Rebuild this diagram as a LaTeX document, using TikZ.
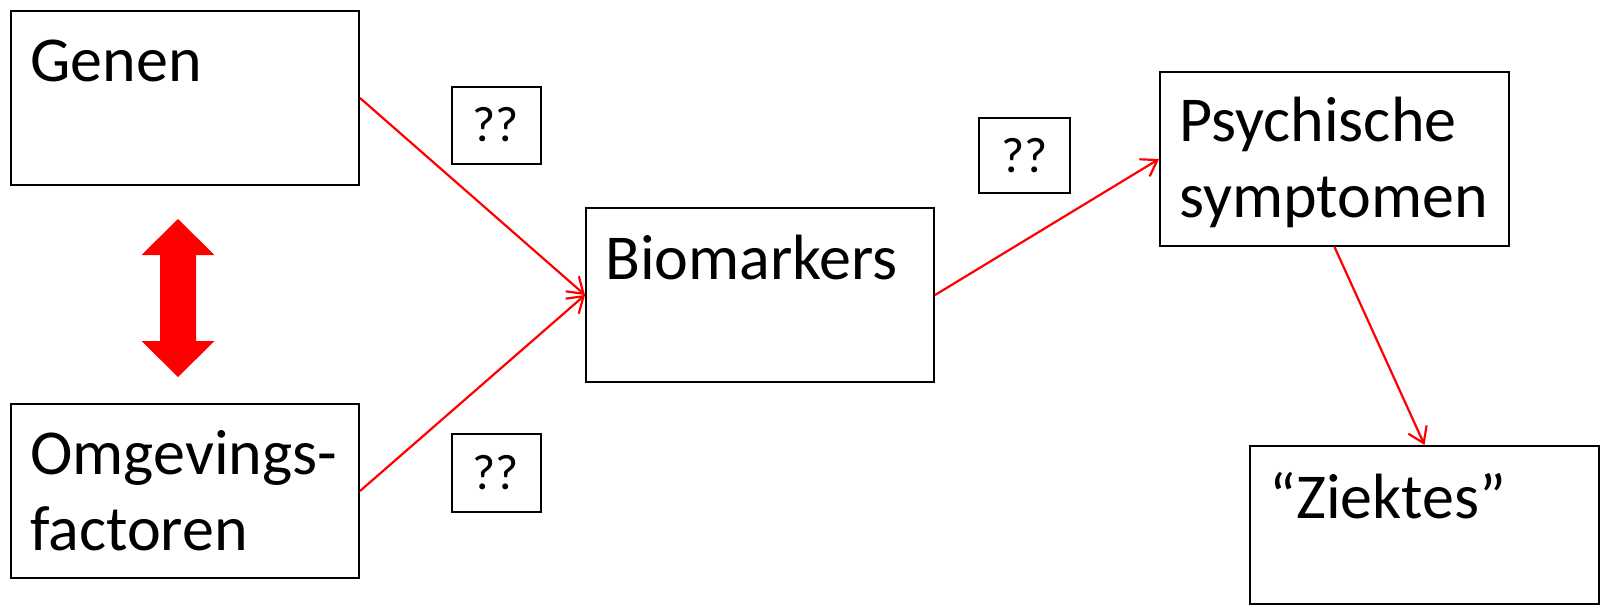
\documentclass[tikz,border=0pt]{standalone}
\usepackage{fontspec}
\setmainfont{Carlito}
\usetikzlibrary{arrows.meta}

\begin{document}
\begin{tikzpicture}[x=0.5pt,y=-0.5pt,
  box/.style={draw=black, line width=1pt, rectangle, inner sep=0pt,
    minimum width=174pt, minimum height=87pt},
  qbox/.style={draw=black, line width=1pt, rectangle, inner sep=0pt,
    font=\fontsize{25}{30}\selectfont},
  boxtext/.style={anchor=base west, inner sep=0pt, align=left,
    font=\fontsize{32}{38}\selectfont},
  link/.style={draw=red, line width=1.1pt, -{Straight Barb[length=7.5pt,width=10pt]}},
  bigarrow/.style={fill=red}]

  \useasboundingbox (0,0) rectangle (1604,606);

  % main boxes
  \node[box] (genen) at (185,98) {};
  \node[box] (omg) at (185,491) {};
  \node[box] (bio) at (760,295) {};
  \node[box, minimum width=174.5pt] (psy) at (1334.5,159) {};
  \node[box, minimum width=174.5pt, minimum height=79pt] (zk) at (1424.5,525) {};

  % their labels; a two-line label sits on the baseline of its last line
  \node[boxtext] (genent) at (30,81) {Genen};
  \node[boxtext] (omgt) at (30,550) {Omgevings-\\factoren};
  \node[boxtext] (biot) at (605,279) {Biomarkers};
  \node[boxtext] (psyt) at (1179,217) {Psychische\\symptomen};
  \node[boxtext] (zkt) at (1269,518) {“Ziektes”};

  % question boxes
  \node[qbox, minimum width=44.5pt, minimum height=38.5pt] (q1) at (496,125) {??};
  \node[qbox, minimum width=45.5pt, minimum height=37.5pt] (q2) at (1024.5,155.5) {??};
  \node[qbox, minimum width=44.5pt, minimum height=39pt] (q3) at (496,473) {??};

  % connectors
  \draw[link] (genen.east) -- (bio.west);
  \draw[link] (omg.east) -- (bio.west);
  \draw[link] (bio.east) -- (psy.west);
  \draw[link] (psy.south) -- (zk.north);

  % two-headed block arrow between genes and environment
  \fill[bigarrow] (178,219) -- (214.5,255) -- (196,255) -- (196,341)
    -- (214.5,341) -- (178,377) -- (141.5,341) -- (160,341)
    -- (160,255) -- (141.5,255) -- cycle;
\end{tikzpicture}
\end{document}
